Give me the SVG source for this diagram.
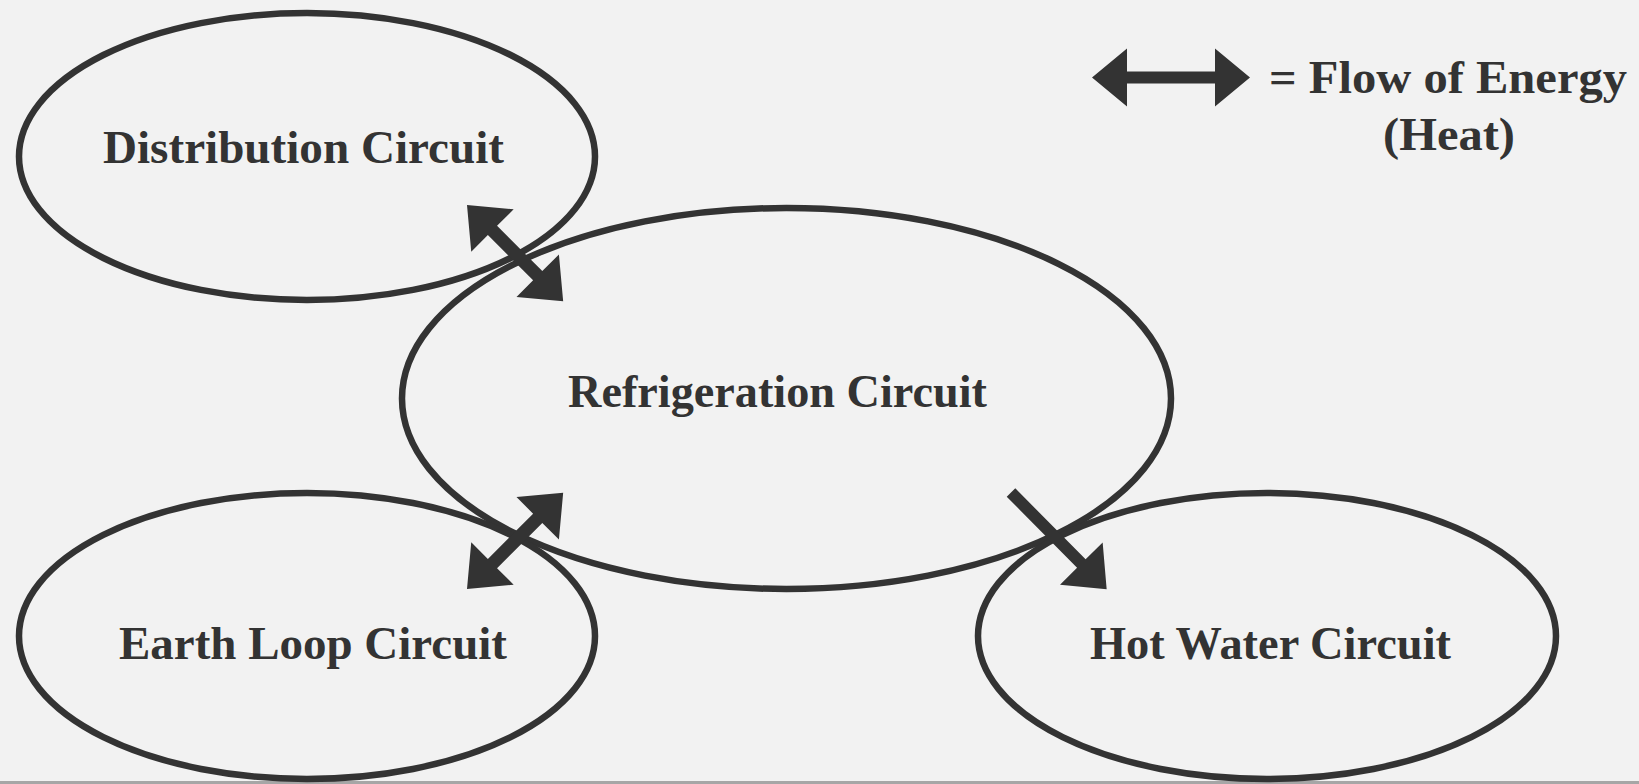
<svg xmlns="http://www.w3.org/2000/svg" width="1639" height="784" viewBox="0 0 1639 784">
  <style>
    .ring { fill: none; stroke: #333333; stroke-width: 6.5; }
    .label { font-family: "Liberation Serif", "Times New Roman", serif; font-weight: bold; font-size: 46px; fill: #333333; }
    .arrow { fill: #333333; }
  </style>
  <defs>
    <!-- double-headed arrow, 136 long, pointing along +x -->
    <path id="dbl" d="M0,0 L36,-30 L36,-6.5 L100,-6.5 L100,-30 L136,0 L100,30 L100,6.5 L36,6.5 L36,30 Z"/>
    <!-- single-headed arrow, 136 long, tail at origin -->
    <path id="sgl" d="M0,-6 L100,-6 L100,-30 L136,0 L100,30 L100,6 L0,6 Z"/>
  </defs>

  <rect x="0" y="0" width="1639" height="784" fill="#f2f2f2"/>
  <rect x="0" y="781" width="1639" height="3" fill="#a6a6a6"/>

  <g id="distribution">
    <ellipse class="ring" cx="307" cy="156.5" rx="288" ry="143.5"/>
    <text class="label" x="303.5" y="163" text-anchor="middle" textLength="401" lengthAdjust="spacingAndGlyphs">Distribution Circuit</text>
  </g>

  <g id="refrigeration">
    <ellipse class="ring" cx="786.5" cy="398.5" rx="384.5" ry="190.5"/>
    <text class="label" x="777.5" y="407" text-anchor="middle" textLength="419" lengthAdjust="spacingAndGlyphs">Refrigeration Circuit</text>
  </g>

  <g id="earth-loop">
    <ellipse class="ring" cx="307" cy="636" rx="288" ry="143"/>
    <text class="label" x="313" y="659" text-anchor="middle" textLength="388" lengthAdjust="spacingAndGlyphs">Earth Loop Circuit</text>
  </g>

  <g id="hot-water">
    <ellipse class="ring" cx="1267" cy="636" rx="289" ry="143"/>
    <text class="label" x="1270.5" y="659" text-anchor="middle" textLength="361" lengthAdjust="spacingAndGlyphs">Hot Water Circuit</text>
  </g>

  <g id="connectors" class="arrow">
    <use href="#dbl" transform="translate(467,205) rotate(45)"/>
    <use href="#dbl" transform="translate(467,589) rotate(-45)"/>
    <use href="#sgl" transform="translate(1011,492.5) rotate(45.3)"/>
  </g>

  <g id="legend">
    <path class="arrow" d="M1092,77.5 L1127,48.5 L1127,71.5 L1215,71.5 L1215,48.5 L1250,77.5 L1215,106.5 L1215,83.5 L1127,83.5 L1127,106.5 Z"/>
    <text class="label" x="1269" y="93" textLength="358" lengthAdjust="spacingAndGlyphs">= Flow of Energy</text>
    <text class="label" x="1449" y="150" text-anchor="middle" textLength="132" lengthAdjust="spacingAndGlyphs">(Heat)</text>
  </g>
</svg>
